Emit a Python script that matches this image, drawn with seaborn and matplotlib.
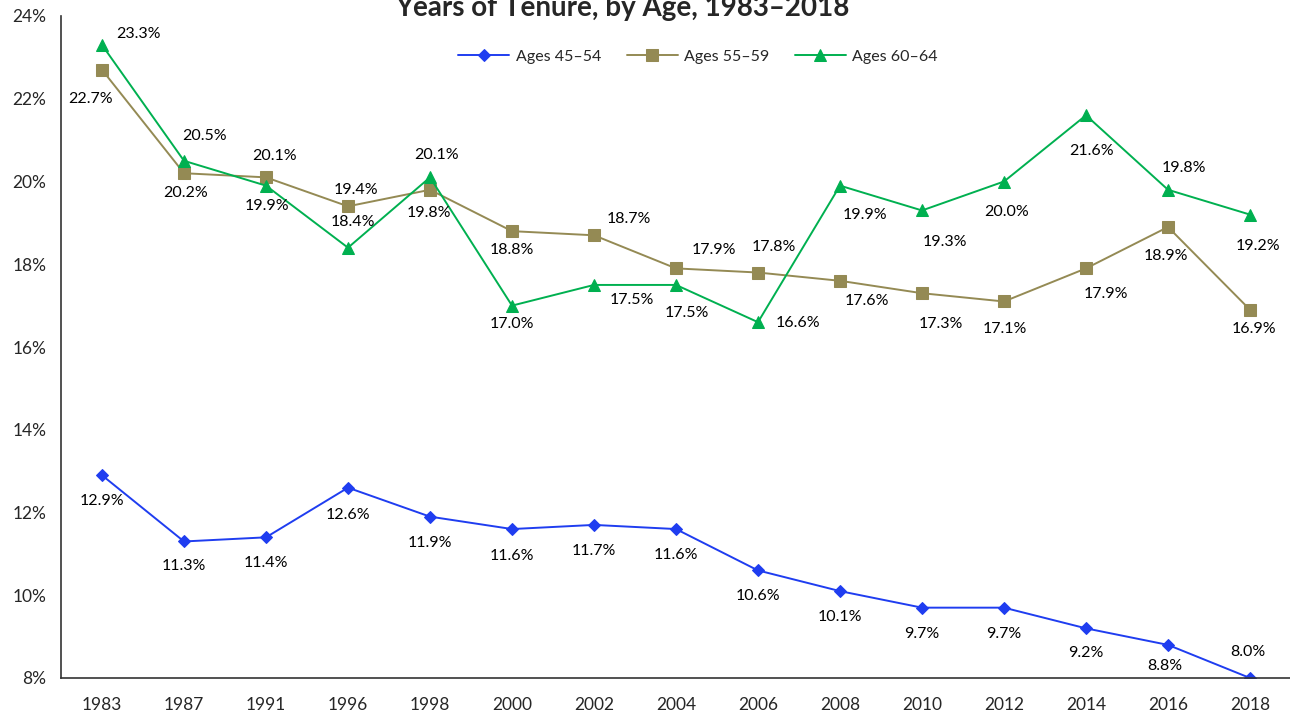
import matplotlib.pyplot as plt
import numpy as np
import pandas as pd
import seaborn as sns

years = ["1983", "1987", "1991", "1996", "1998", "2000", "2002", "2004",
         "2006", "2008", "2010", "2012", "2014", "2016", "2018"]
ages_45_54 = [12.9, 11.3, 11.4, 12.6, 11.9, 11.6, 11.7, 11.6, 10.6, 10.1, 9.7, 9.7, 9.2, 8.8, 8.0]
ages_55_59 = [22.7, 20.2, 20.1, 19.4, 19.8, 18.8, 18.7, 17.9, 17.8, 17.6, 17.3, 17.1, 17.9, 18.9, 16.9]
ages_60_64 = [23.3, 20.5, 19.9, 18.4, 20.1, 17.0, 17.5, 17.5, 16.6, 19.9, 19.3, 20.0, 21.6, 19.8, 19.2]
series_names = ["Ages 45\u201354", "Ages 55\u201359", "Ages 60\u201364"]

# label offsets in pixels (dx right, dy down), kept apart from the values
off_45_54 = [(0, 26), (0, 25), (0, 26), (0, 27), (0, 26), (0, 27), (0, 26), (0, 26),
             (0, 26), (0, 26), (0, 26), (0, 26), (0, 25), (-3, 21), (-2, -26)]
off_55_59 = [(-11, 29), (2, 20), (9, -21), (8, -16), (-1, 23), (0, 19), (35, -16), (38, -18),
             (16, -26), (27, 20), (19, 31), (1, 28), (20, 26), (-2, 29), (4, 19)]
off_60_64 = [(36, -11), (21, -25), (1, 20), (5, -26), (7, -22), (0, 18), (38, 15), (11, 28),
             (40, 1), (25, 29), (23, 32), (3, 30), (6, 36), (16, -22), (8, 31)]

COLORS = {series_names[0]: "#1F3DF0", series_names[1]: "#948A54", series_names[2]: "#00B050"}
MARKERS = {series_names[0]: "D", series_names[1]: "s", series_names[2]: "^"}
MSIZE = {series_names[0]: 6, series_names[1]: 8, series_names[2]: 8}

sns.set_style("white")
plt.rcParams["font.family"] = ["Lato", "DejaVu Sans"]

pos = np.arange(len(years))
df = pd.DataFrame({
    "pos": np.tile(pos, 3),
    "share": ages_45_54 + ages_55_59 + ages_60_64,
    "group": np.repeat(series_names, len(years)),
})

fig = plt.figure(figsize=(12.9, 7.17), dpi=100)
ax = fig.add_axes([61 / 1290, 39 / 717, 1230 / 1290, 662 / 717])

for name in series_names:
    sub = df[df["group"] == name]
    sns.lineplot(data=sub, x="pos", y="share", ax=ax, color=COLORS[name],
                 marker=MARKERS[name], markersize=MSIZE[name], linewidth=1.4,
                 markeredgecolor=COLORS[name], label=name)

for vals, offs in [(ages_45_54, off_45_54), (ages_55_59, off_55_59), (ages_60_64, off_60_64)]:
    for i, (v, (dx, dy)) in enumerate(zip(vals, offs)):
        ax.annotate(f"{v:.1f}%", (i, v), xytext=(dx, -dy), textcoords="offset pixels",
                    ha="center", va="center", fontsize=11.5, color="black")

ax.set_xlim(-0.5, len(years) - 0.5)
ax.set_ylim(8, 24)
ax.set_yticks(range(8, 25, 2))
ax.yaxis.set_major_formatter(plt.FuncFormatter(lambda y, _: f"{y:.0f}%"))
ax.set_xticks(np.arange(-0.5, len(years), 1.0))
ax.set_xticklabels([])
ax.set_xticks(pos, minor=True)
ax.set_xticklabels(years, minor=True)
ax.tick_params(axis="x", which="major", direction="out", length=6, width=1, color="#333333")
ax.tick_params(axis="x", which="minor", length=0, pad=14, labelsize=12.5)
ax.tick_params(axis="y", direction="out", length=7, width=1, color="#333333", labelsize=12.5)
ax.set_xlabel("")
ax.set_ylabel("")
for side in ["top", "right"]:
    ax.spines[side].set_visible(False)
for side in ["left", "bottom"]:
    ax.spines[side].set_color("#333333")
    ax.spines[side].set_linewidth(1.2)

ax.legend(loc="center", bbox_to_anchor=(637 / 1230, 1 - 41 / 662), ncol=3, frameon=False,
          fontsize=11.5, handlelength=3.2, columnspacing=1.6, handletextpad=0.4)

fig.text(622 / 1290, 1 - 16 / 717, "Years of Tenure, by Age, 1983\u20132018",
         ha="center", va="baseline", fontsize=20, fontweight="bold")

fig.savefig("out.png", dpi=100)
